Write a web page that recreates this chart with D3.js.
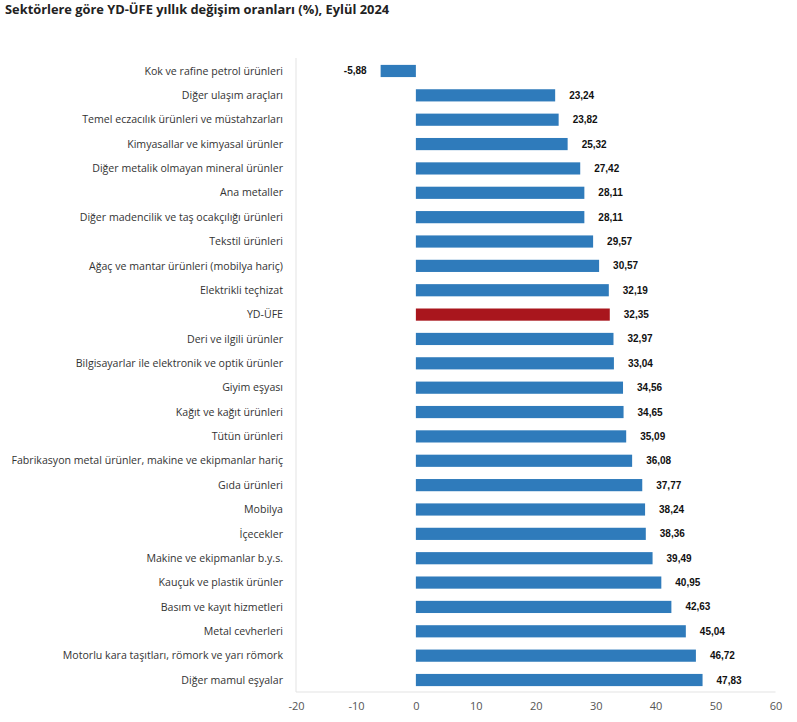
<!DOCTYPE html>
<html><head><meta charset="utf-8">
<script src="https://cdn.jsdelivr.net/npm/d3@7"></script>
<style>body{margin:0;background:#fff;} svg{display:block;}</style>
</head><body>
<svg id="c" width="797" height="722"></svg>
<script>
const categories = ["Kok ve rafine petrol ürünleri","Diğer ulaşım araçları","Temel eczacılık ürünleri ve müstahzarları","Kimyasallar ve kimyasal ürünler","Diğer metalik olmayan mineral ürünler","Ana metaller","Diğer madencilik ve taş ocakçılığı ürünleri","Tekstil ürünleri","Ağaç ve mantar ürünleri (mobilya hariç)","Elektrikli teçhizat","YD-ÜFE","Deri ve ilgili ürünler","Bilgisayarlar ile elektronik ve optik ürünler","Giyim eşyası","Kağıt ve kağıt ürünleri","Tütün ürünleri","Fabrikasyon metal ürünler, makine ve ekipmanlar hariç","Gıda ürünleri","Mobilya","İçecekler","Makine ve ekipmanlar b.y.s.","Kauçuk ve plastik ürünler","Basım ve kayıt hizmetleri","Metal cevherleri","Motorlu kara taşıtları, römork ve yarı römork","Diğer mamul eşyalar"];
const values = [-5.88,23.24,23.82,25.32,27.42,28.11,28.11,29.57,30.57,32.19,32.35,32.97,33.04,34.56,34.65,35.09,36.08,37.77,38.24,38.36,39.49,40.95,42.63,45.04,46.72,47.83];
const xTicks = [-20,-10,0,10,20,30,40,50,60];
const highlight = "YD-ÜFE";

const svg = d3.select("#c");
const x = d3.scaleLinear().domain([-20,60]).range([296,775.5]);
const y = d3.scaleBand().domain(categories).range([58.8,692.2]).paddingInner(0.5).paddingOuter(0.25);

svg.append("text").attr("x",5).attr("y",14).attr("font-family","Open Sans, Noto Sans, sans-serif")
  .attr("font-weight","bold").attr("font-size","12.85px").attr("fill","#222")
  .text("Sektörlere göre YD-ÜFE yıllık değişim oranları (%), Eylül 2024");

// axis lines
svg.append("line").attr("x1",x(-20)).attr("x2",x(-20)).attr("y1",58).attr("y2",692).attr("stroke","#e3e3e3");
svg.append("line").attr("x1",x(-20)).attr("x2",x(60)).attr("y1",692).attr("y2",692).attr("stroke","#e3e3e3");

const xAxis = svg.append("g").attr("transform","translate(0,692)")
  .call(d3.axisBottom(x).tickValues(xTicks).tickSize(0).tickPadding(10).tickFormat(d=>String(d)));
xAxis.select(".domain").remove();
xAxis.selectAll("text").attr("font-family","Open Sans, Noto Sans, sans-serif").attr("font-size","11px").attr("fill","#555");

const rows = categories.map((c,i)=>({c, v:values[i]}));

svg.append("g").selectAll("rect").data(rows).join("rect")
  .attr("x",d=>x(Math.min(0,d.v))).attr("width",d=>Math.abs(x(d.v)-x(0)))
  .attr("y",d=>y(d.c)).attr("height",y.bandwidth())
  .attr("fill",d=>d.c===highlight?"#a9161d":"#2f7bbb");

svg.append("g").selectAll("text").data(rows).join("text")
  .attr("x",283).attr("y",d=>y(d.c)+y.bandwidth()/2).attr("dy","0.35em")
  .attr("text-anchor","end").attr("font-family","Open Sans, Noto Sans, sans-serif")
  .attr("font-size","10.6px").attr("fill","#333").text(d=>d.c);

svg.append("g").selectAll("text").data(rows).join("text")
  .attr("x",d=>d.v<0? x(d.v)-14 : x(d.v)+14)
  .attr("y",d=>y(d.c)+y.bandwidth()/2).attr("dy","0.35em")
  .attr("text-anchor",d=>d.v<0?"end":"start")
  .attr("font-family","Liberation Sans, Arial, sans-serif").attr("font-weight","bold")
  .attr("font-size","10px").attr("fill","#111")
  .text(d=>d.v.toFixed(2).replace(".",","));
</script>
</body></html>
